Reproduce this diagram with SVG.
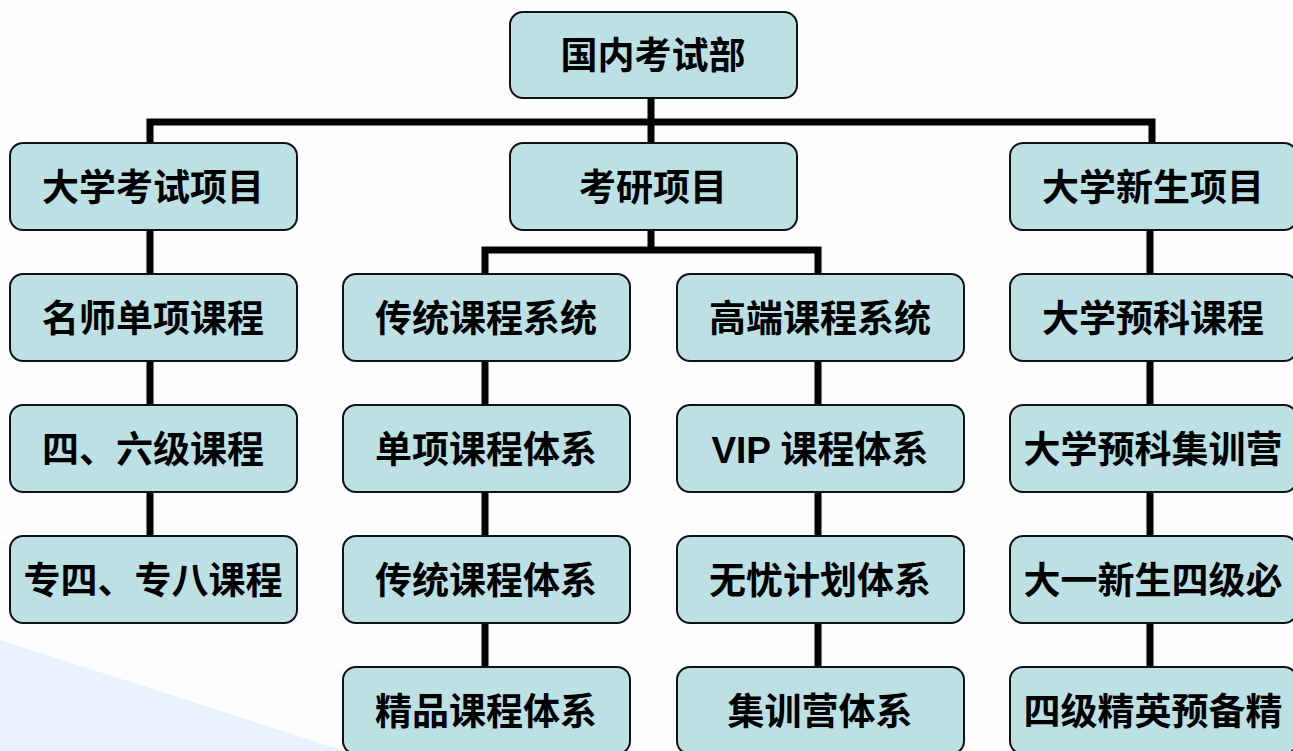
<svg xmlns="http://www.w3.org/2000/svg" width="1293" height="751" viewBox="0 0 1293 751">
<style>
.box{fill:#bde0e4;stroke:#111;stroke-width:2}
.lbl{font-family:"Liberation Sans","Noto Sans CJK SC",sans-serif;font-size:37px;font-weight:bold;fill:#000;text-anchor:middle}
.con{stroke:#000;stroke-width:7;fill:none}
</style>
<rect width="1293" height="751" fill="#fdfdfd"/>
<polygon points="0,640 345,751 0,751" fill="#e8f2fc"/>
<g id="connectors">
<path class="con" d="M651,98 V143"/>
<path class="con" d="M150,143 V122 H1152 V143"/>
<path class="con" d="M651,230 V250"/>
<path class="con" d="M485,274 V250 H818 V274"/>
<path class="con" d="M150,230 V274 M150,361 V405 M150,492 V536"/>
<path class="con" d="M485,361 V405 M485,492 V536 M485,623 V667"/>
<path class="con" d="M818,361 V405 M818,492 V536 M818,623 V667"/>
<path class="con" d="M1150,230 V274 M1150,361 V405 M1150,492 V536 M1150,623 V667"/>
</g>
<g id="n0"><rect class="box" x="510" y="12" width="287" height="86" rx="13"/><text class="lbl" x="653" y="69">国内考试部</text></g>
<g id="n1"><rect class="box" x="10" y="143" width="287" height="87" rx="13"/><text class="lbl" x="153" y="201">大学考试项目</text></g>
<g id="n2"><rect class="box" x="510" y="143" width="287" height="87" rx="13"/><text class="lbl" x="653" y="201">考研项目</text></g>
<g id="n3"><rect class="box" x="1010" y="143" width="287" height="87" rx="13"/><text class="lbl" x="1153" y="201">大学新生项目</text></g>
<g id="n4"><rect class="box" x="10" y="274" width="287" height="87" rx="13"/><text class="lbl" x="153" y="332">名师单项课程</text></g>
<g id="n5"><rect class="box" x="343" y="274" width="287" height="87" rx="13"/><text class="lbl" x="486" y="332">传统课程系统</text></g>
<g id="n6"><rect class="box" x="677" y="274" width="287" height="87" rx="13"/><text class="lbl" x="820" y="332">高端课程系统</text></g>
<g id="n7"><rect class="box" x="1010" y="274" width="287" height="87" rx="13"/><text class="lbl" x="1153" y="332">大学预科课程</text></g>
<g id="n8"><rect class="box" x="10" y="405" width="287" height="87" rx="13"/><text class="lbl" x="153" y="463">四、六级课程</text></g>
<g id="n9"><rect class="box" x="343" y="405" width="287" height="87" rx="13"/><text class="lbl" x="486" y="463">单项课程体系</text></g>
<g id="n10"><rect class="box" x="677" y="405" width="287" height="87" rx="13"/><text class="lbl" x="820" y="463">VIP 课程体系</text></g>
<g id="n11"><rect class="box" x="1010" y="405" width="287" height="87" rx="13"/><text class="lbl" x="1153" y="463">大学预科集训营</text></g>
<g id="n12"><rect class="box" x="10" y="536" width="287" height="87" rx="13"/><text class="lbl" x="153" y="594">专四、专八课程</text></g>
<g id="n13"><rect class="box" x="343" y="536" width="287" height="87" rx="13"/><text class="lbl" x="486" y="594">传统课程体系</text></g>
<g id="n14"><rect class="box" x="677" y="536" width="287" height="87" rx="13"/><text class="lbl" x="820" y="594">无忧计划体系</text></g>
<g id="n15"><rect class="box" x="1010" y="536" width="287" height="87" rx="13"/><text class="lbl" x="1153" y="594">大一新生四级必</text></g>
<g id="n16"><rect class="box" x="343" y="667" width="287" height="87" rx="13"/><text class="lbl" x="486" y="725">精品课程体系</text></g>
<g id="n17"><rect class="box" x="677" y="667" width="287" height="87" rx="13"/><text class="lbl" x="820" y="725">集训营体系</text></g>
<g id="n18"><rect class="box" x="1010" y="667" width="287" height="87" rx="13"/><text class="lbl" x="1153" y="725">四级精英预备精</text></g>
</svg>
